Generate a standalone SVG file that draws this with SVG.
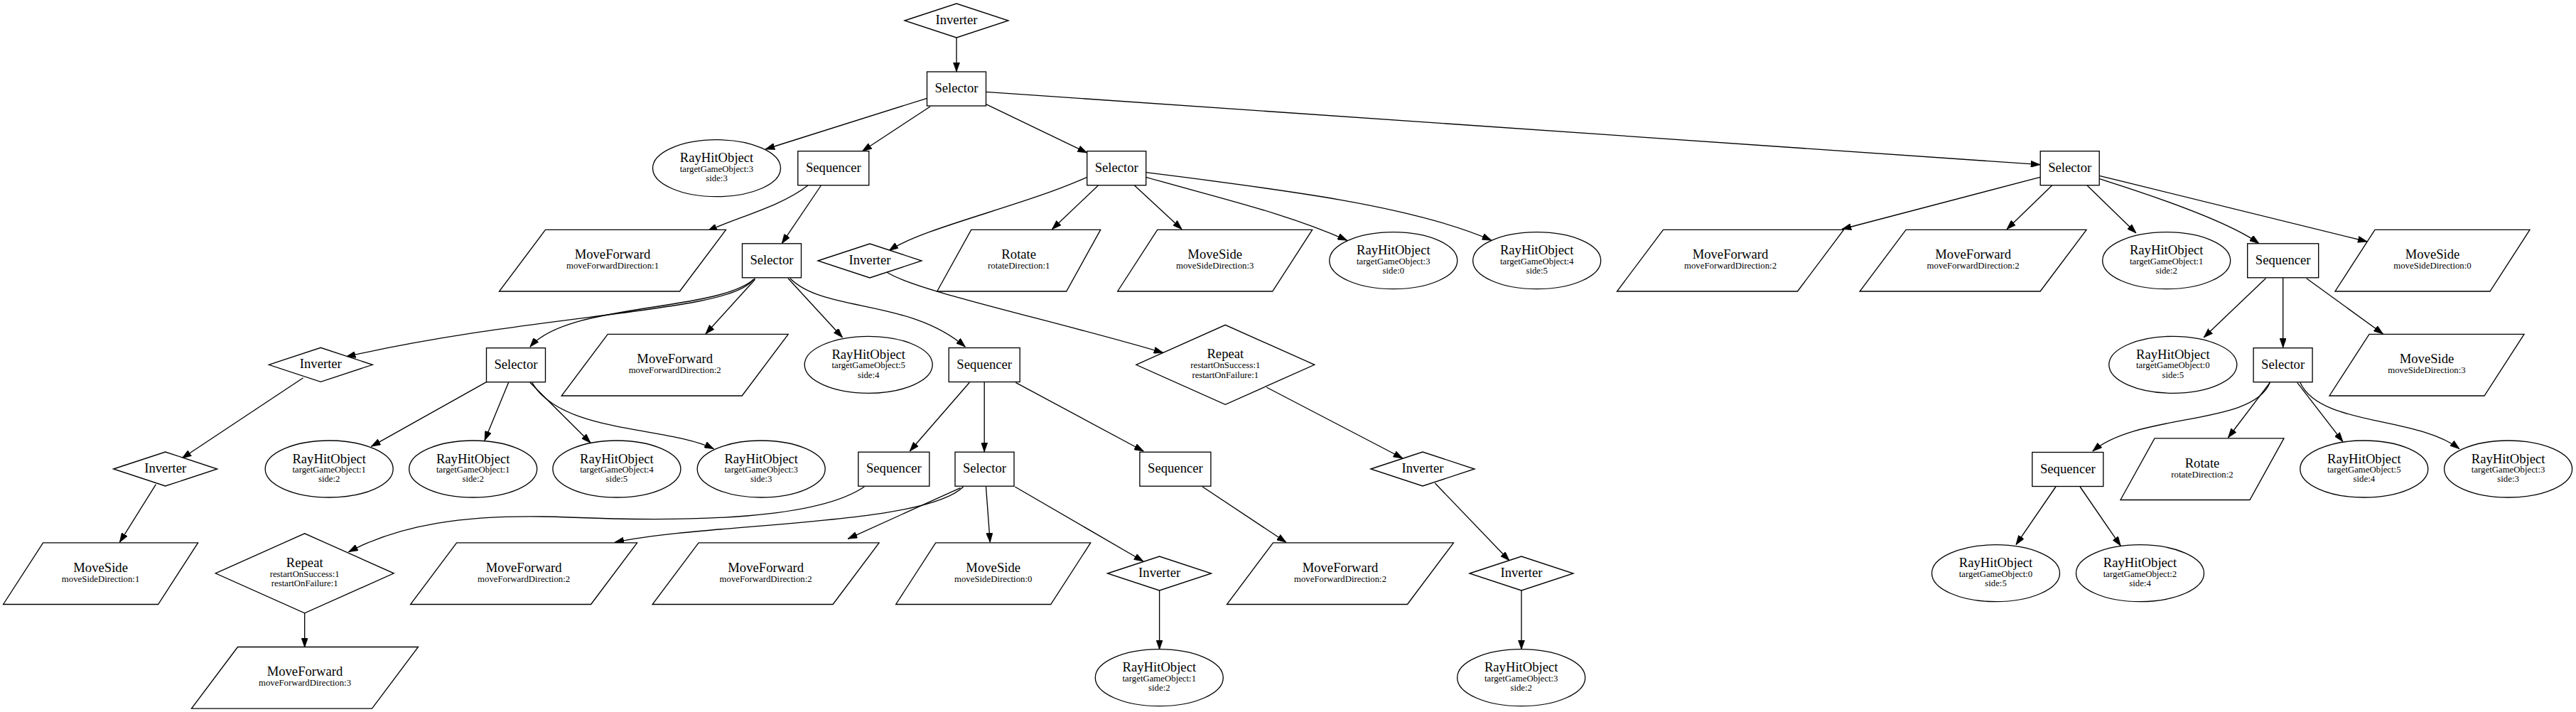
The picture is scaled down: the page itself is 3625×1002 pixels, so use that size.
<svg xmlns="http://www.w3.org/2000/svg" xmlns:xlink="http://www.w3.org/1999/xlink" width="3625" height="1002" viewBox="0 0 3625 1002">
<style>
.sh{fill:#fff;stroke:#000;stroke-width:1.33}
.e{fill:none;stroke:#000;stroke-width:1.33;marker-end:url(#ah)}
text{font-family:"Liberation Serif","Times New Roman",serif;text-anchor:middle;fill:#000}
.t{font-size:18.67px}
.s{font-size:12.8px}
</style>
<defs>
<marker id="ah" viewBox="0 0 10 7" refX="10" refY="3.5" markerWidth="13.3" markerHeight="9.3" markerUnits="userSpaceOnUse" orient="auto"><path d="M0,0 L10,3.5 L0,7 z" fill="#000" stroke="#000" stroke-width="0.5"/></marker>
<polygon id="pMF" class="sh" points="-94.5,-43.3 159.5,-43.3 94.5,43.3 -159.5,43.3"/>
<polygon id="pMS" class="sh" points="-81,-43.3 137,-43.3 81,43.3 -137,43.3"/>
<polygon id="pRO" class="sh" points="-67,-43.3 115,-43.3 67,43.3 -115,43.3"/>
<ellipse id="pE" class="sh" cx="0" cy="0" rx="90" ry="40"/>
<rect id="pSel" class="sh" x="-41.5" y="-24" width="83" height="48"/>
<rect id="pSeq" class="sh" x="-50" y="-24" width="100" height="48"/>
<polygon id="pInv" class="sh" points="-73,0 0,-24 73,0 0,24"/>
<polygon id="pRep" class="sh" points="-125.5,0 0,-56 125.5,0 0,56"/>
</defs>
<rect width="3625" height="1002" fill="#fff"/>
<g id="edges">
<path class="e" d="M1346,53 L1346,101"/>
<path class="e" d="M1304.5,138.3 L1077,210"/>
<path class="e" d="M1309,150 L1213.4,212.7"/>
<path class="e" d="M1387.5,146.7 L1529.7,215"/>
<path class="e" d="M1387.5,129.3 L2871,231.7"/>
<path class="e" d="M1136.8,261 C1100,290 1040,305 995.8,325"/>
<path class="e" d="M1155.4,261 L1100.2,342.7"/>
<path class="e" d="M1529.7,249.3 C1440,290 1300,320 1251,352.7"/>
<path class="e" d="M1545.4,261 L1480.4,322.7"/>
<path class="e" d="M1596.5,261 L1663.2,322.7"/>
<path class="e" d="M1612.7,249.3 C1720,280 1810,300 1895.8,338.3"/>
<path class="e" d="M1612.7,242.7 C1800,266 1990,290 2098.9,338.3"/>
<path class="e" d="M2871,249.3 L2592,322.5"/>
<path class="e" d="M2887.6,261 L2823.9,322.7"/>
<path class="e" d="M2937.1,261 L3006,328"/>
<path class="e" d="M2954.3,251.7 C3060,285 3140,315 3179,342.7"/>
<path class="e" d="M2954.3,247.3 L3331.2,340"/>
<path class="e" d="M1059.6,393.3 C1030,440 760,440 487,502"/>
<path class="e" d="M1062.5,391.7 C1010,440 800,425 745.8,488.3"/>
<path class="e" d="M1062.5,393.3 L992.9,470"/>
<path class="e" d="M1109,391.7 L1185.6,475"/>
<path class="e" d="M1111.8,391.7 C1160,440 1280,420 1358.5,488.3"/>
<path class="e" d="M1248.2,383.3 C1290,410 1480,450 1637,496.5"/>
<path class="e" d="M3188.4,391.7 L3101.1,475"/>
<path class="e" d="M3212.7,391 L3212.7,489.3"/>
<path class="e" d="M3245.7,391.7 L3353.6,470"/>
<path class="e" d="M426.6,531.7 L256,645"/>
<path class="e" d="M684.9,537.3 L522.4,628.3"/>
<path class="e" d="M715.6,538.3 L682,620"/>
<path class="e" d="M745.8,538.3 L831.1,623.3"/>
<path class="e" d="M748.7,538.3 C790,610 940,600 1004.5,631.7"/>
<path class="e" d="M1364.3,538.3 L1280.2,635"/>
<path class="e" d="M1385.2,537.7 L1385.2,636"/>
<path class="e" d="M1429.3,538.3 L1609.3,635"/>
<path class="e" d="M1782.2,545 L1974.1,645"/>
<path class="e" d="M3194.3,538.3 C3170,600 3010,580 2944.8,635"/>
<path class="e" d="M3194.3,538.3 L3135.4,616"/>
<path class="e" d="M3232.7,538.3 L3297,621.7"/>
<path class="e" d="M3236.8,538.3 C3265,600 3400,585 3461,631.7"/>
<path class="e" d="M219.4,681.7 L168.3,763.3"/>
<path class="e" d="M1216.3,685 C1150,730 980,735 800,728 C650,722 560,740 490.4,776.7"/>
<path class="e" d="M1355.6,685 C1300,740 1000,735 864.8,763.3"/>
<path class="e" d="M1351.5,686.7 L1193.1,758.3"/>
<path class="e" d="M1387.5,685 L1393.3,763.3"/>
<path class="e" d="M1428.2,685 L1609,790"/>
<path class="e" d="M1692.2,685 L1810,763.3"/>
<path class="e" d="M2019.4,680 L2124,789"/>
<path class="e" d="M2892.9,685 L2836.9,766.7"/>
<path class="e" d="M2927.1,685 L2984.3,768.3"/>
<path class="e" d="M428.7,862.7 L428.7,911"/>
<path class="e" d="M1631.6,830.7 L1631.6,914"/>
<path class="e" d="M2141,830.7 L2141,914"/>
</g>
<g id="n0" transform="translate(1346,29)"><use href="#pInv"/><text class="t" y="5">Inverter</text></g>
<g id="n1" transform="translate(1346,125)"><use href="#pSel"/><text class="t" y="5">Selector</text></g>
<g id="n2" transform="translate(1008.5,236.7)"><use href="#pE"/><text class="t" y="-8.5">RayHitObject</text><text class="s" y="5">targetGameObject:3</text><text class="s" y="18.3">side:3</text></g>
<g id="n3" transform="translate(1172.8,236.7)"><use href="#pSeq"/><text class="t" y="5">Sequencer</text></g>
<g id="n4" transform="translate(1571.2,236.7)"><use href="#pSel"/><text class="t" y="5">Selector</text></g>
<g id="n5" transform="translate(2912.7,236.7)"><use href="#pSel"/><text class="t" y="5">Selector</text></g>
<g id="n6" transform="translate(862,366.7)"><use href="#pMF"/><text class="t" y="-2.4">MoveForward</text><text class="s" y="11.6">moveForwardDirection:1</text></g>
<g id="n7" transform="translate(1086,366.8)"><use href="#pSel"/><text class="t" y="5">Selector</text></g>
<g id="n8" transform="translate(1224,367)"><use href="#pInv"/><text class="t" y="5">Inverter</text></g>
<g id="n9" transform="translate(1433.7,366.7)"><use href="#pRO"/><text class="t" y="-2.4">Rotate</text><text class="s" y="11.6">rotateDirection:1</text></g>
<g id="n10" transform="translate(1709.7,366.7)"><use href="#pMS"/><text class="t" y="-2.4">MoveSide</text><text class="s" y="11.6">moveSideDirection:3</text></g>
<g id="n11" transform="translate(1960.8,366.7)"><use href="#pE"/><text class="t" y="-8.5">RayHitObject</text><text class="s" y="5">targetGameObject:3</text><text class="s" y="18.3">side:0</text></g>
<g id="n12" transform="translate(2162.7,366.7)"><use href="#pE"/><text class="t" y="-8.5">RayHitObject</text><text class="s" y="5">targetGameObject:4</text><text class="s" y="18.3">side:5</text></g>
<g id="n13" transform="translate(2435,366.7)"><use href="#pMF"/><text class="t" y="-2.4">MoveForward</text><text class="s" y="11.6">moveForwardDirection:2</text></g>
<g id="n14" transform="translate(2776.6,366.7)"><use href="#pMF"/><text class="t" y="-2.4">MoveForward</text><text class="s" y="11.6">moveForwardDirection:2</text></g>
<g id="n15" transform="translate(3048.7,366.7)"><use href="#pE"/><text class="t" y="-8.5">RayHitObject</text><text class="s" y="5">targetGameObject:1</text><text class="s" y="18.3">side:2</text></g>
<g id="n16" transform="translate(3212.7,366.8)"><use href="#pSeq"/><text class="t" y="5">Sequencer</text></g>
<g id="n17" transform="translate(3423,366.7)"><use href="#pMS"/><text class="t" y="-2.4">MoveSide</text><text class="s" y="11.6">moveSideDirection:0</text></g>
<g id="n18" transform="translate(451.3,513.3)"><use href="#pInv"/><text class="t" y="5">Inverter</text></g>
<g id="n19" transform="translate(726,513.7)"><use href="#pSel"/><text class="t" y="5">Selector</text></g>
<g id="n20" transform="translate(949.7,513.7)"><use href="#pMF"/><text class="t" y="-2.4">MoveForward</text><text class="s" y="11.6">moveForwardDirection:2</text></g>
<g id="n21" transform="translate(1222.2,513.3)"><use href="#pE"/><text class="t" y="-8.5">RayHitObject</text><text class="s" y="5">targetGameObject:5</text><text class="s" y="18.3">side:4</text></g>
<g id="n22" transform="translate(1385.2,513.5)"><use href="#pSeq"/><text class="t" y="5">Sequencer</text></g>
<g id="n23" transform="translate(1724.3,513.3)"><use href="#pRep"/><text class="t" y="-9">Repeat</text><text class="s" y="5">restartOnSuccess:1</text><text class="s" y="18.4">restartOnFailure:1</text></g>
<g id="n24" transform="translate(3057.8,513.3)"><use href="#pE"/><text class="t" y="-8.5">RayHitObject</text><text class="s" y="5">targetGameObject:0</text><text class="s" y="18.3">side:5</text></g>
<g id="n25" transform="translate(3212.6,513.7)"><use href="#pSel"/><text class="t" y="5">Selector</text></g>
<g id="n26" transform="translate(3415,513.7)"><use href="#pMS"/><text class="t" y="-2.4">MoveSide</text><text class="s" y="11.6">moveSideDirection:3</text></g>
<g id="n27" transform="translate(232.7,660)"><use href="#pInv"/><text class="t" y="5">Inverter</text></g>
<g id="n28" transform="translate(463.2,660)"><use href="#pE"/><text class="t" y="-8.5">RayHitObject</text><text class="s" y="5">targetGameObject:1</text><text class="s" y="18.3">side:2</text></g>
<g id="n29" transform="translate(665.7,660)"><use href="#pE"/><text class="t" y="-8.5">RayHitObject</text><text class="s" y="5">targetGameObject:1</text><text class="s" y="18.3">side:2</text></g>
<g id="n30" transform="translate(867.9,660)"><use href="#pE"/><text class="t" y="-8.5">RayHitObject</text><text class="s" y="5">targetGameObject:4</text><text class="s" y="18.3">side:5</text></g>
<g id="n31" transform="translate(1071.2,660)"><use href="#pE"/><text class="t" y="-8.5">RayHitObject</text><text class="s" y="5">targetGameObject:3</text><text class="s" y="18.3">side:3</text></g>
<g id="n32" transform="translate(1257.8,660.2)"><use href="#pSeq"/><text class="t" y="5">Sequencer</text></g>
<g id="n33" transform="translate(1385.5,660.2)"><use href="#pSel"/><text class="t" y="5">Selector</text></g>
<g id="n34" transform="translate(1653.9,660.2)"><use href="#pSeq"/><text class="t" y="5">Sequencer</text></g>
<g id="n35" transform="translate(2002,660)"><use href="#pInv"/><text class="t" y="5">Inverter</text></g>
<g id="n36" transform="translate(2909.8,660.5)"><use href="#pSeq"/><text class="t" y="5">Sequencer</text></g>
<g id="n37" transform="translate(3099,660.2)"><use href="#pRO"/><text class="t" y="-2.4">Rotate</text><text class="s" y="11.6">rotateDirection:2</text></g>
<g id="n38" transform="translate(3326.8,660)"><use href="#pE"/><text class="t" y="-8.5">RayHitObject</text><text class="s" y="5">targetGameObject:5</text><text class="s" y="18.3">side:4</text></g>
<g id="n39" transform="translate(3529.6,660)"><use href="#pE"/><text class="t" y="-8.5">RayHitObject</text><text class="s" y="5">targetGameObject:3</text><text class="s" y="18.3">side:3</text></g>
<g id="n40" transform="translate(141.6,807.2)"><use href="#pMS"/><text class="t" y="-2.4">MoveSide</text><text class="s" y="11.6">moveSideDirection:1</text></g>
<g id="n41" transform="translate(428.7,806.8)"><use href="#pRep"/><text class="t" y="-9">Repeat</text><text class="s" y="5">restartOnSuccess:1</text><text class="s" y="18.4">restartOnFailure:1</text></g>
<g id="n42" transform="translate(737.1,807.2)"><use href="#pMF"/><text class="t" y="-2.4">MoveForward</text><text class="s" y="11.6">moveForwardDirection:2</text></g>
<g id="n43" transform="translate(1077.6,807.2)"><use href="#pMF"/><text class="t" y="-2.4">MoveForward</text><text class="s" y="11.6">moveForwardDirection:2</text></g>
<g id="n44" transform="translate(1397.7,807.2)"><use href="#pMS"/><text class="t" y="-2.4">MoveSide</text><text class="s" y="11.6">moveSideDirection:0</text></g>
<g id="n45" transform="translate(1631.6,807)"><use href="#pInv"/><text class="t" y="5">Inverter</text></g>
<g id="n46" transform="translate(1886,807.2)"><use href="#pMF"/><text class="t" y="-2.4">MoveForward</text><text class="s" y="11.6">moveForwardDirection:2</text></g>
<g id="n47" transform="translate(2141,807)"><use href="#pInv"/><text class="t" y="5">Inverter</text></g>
<g id="n48" transform="translate(2808.5,806.7)"><use href="#pE"/><text class="t" y="-8.5">RayHitObject</text><text class="s" y="5">targetGameObject:0</text><text class="s" y="18.3">side:5</text></g>
<g id="n49" transform="translate(3011.5,806.7)"><use href="#pE"/><text class="t" y="-8.5">RayHitObject</text><text class="s" y="5">targetGameObject:2</text><text class="s" y="18.3">side:4</text></g>
<g id="n50" transform="translate(429,953.8)"><use href="#pMF"/><text class="t" y="-2.4">MoveForward</text><text class="s" y="11.6">moveForwardDirection:3</text></g>
<g id="n51" transform="translate(1631.3,953.7)"><use href="#pE"/><text class="t" y="-8.5">RayHitObject</text><text class="s" y="5">targetGameObject:1</text><text class="s" y="18.3">side:2</text></g>
<g id="n52" transform="translate(2140.7,953.7)"><use href="#pE"/><text class="t" y="-8.5">RayHitObject</text><text class="s" y="5">targetGameObject:3</text><text class="s" y="18.3">side:2</text></g>
</svg>
